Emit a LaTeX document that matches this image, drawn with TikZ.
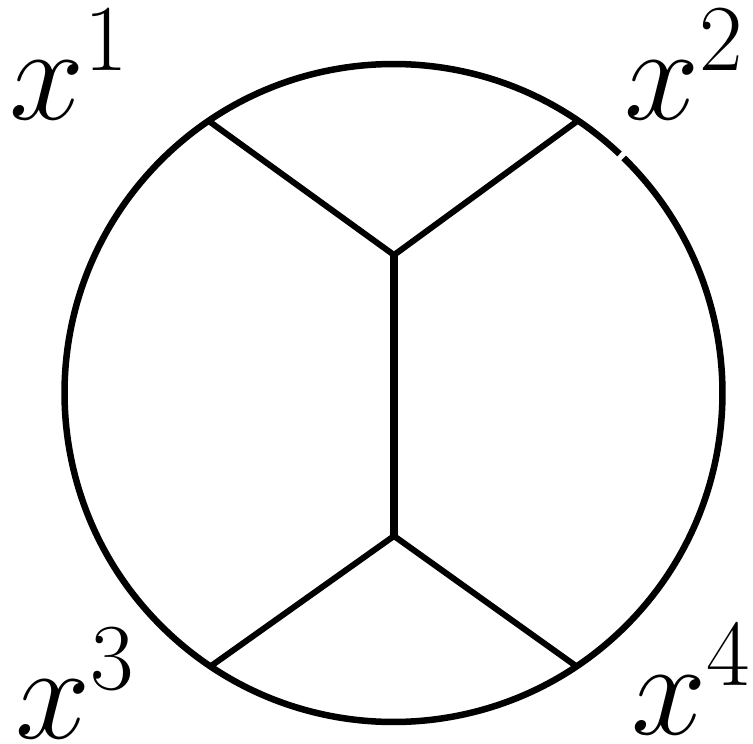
\RequirePackage{fix-cm}
\documentclass[tikz,border=0pt]{standalone}
\usetikzlibrary{calc}
\begin{document}
\begin{tikzpicture}[x=1pt,y=1pt,
  ring/.style={line width=6.5pt},
  leg/.style={line width=6pt, line join=round},
  prop/.style={line width=8.5pt},
  lab/.style={inner sep=0pt, anchor=base west, font=\fontsize{135}{140}\selectfont}]
\useasboundingbox (0,0) rectangle (753,-744);
\coordinate (c) at (393.5,-393);
\draw[ring] ($(c)+(46.6:329)$) arc[start angle=46.6, end angle=405.6, radius=329];
\coordinate (p1) at ($(c)+(124.2:329)$);
\coordinate (p2) at ($(c)+(55.9:329)$);
\coordinate (p3) at ($(c)+(-123.8:329)$);
\coordinate (p4) at ($(c)+(-56.2:329)$);
\coordinate (a) at (394,-255);
\coordinate (b) at (394,-536);
\draw[leg] (p1) -- (a) -- (p2);
\draw[leg] (p3) -- (b) -- (p4);
\draw[prop] (a) -- (b);
\node[lab] (l1) at (9,-119) {$x^1$};
\node[lab] (l2) at (624,-119) {$x^2$};
\node[lab] (l3) at (15,-738) {$x^3$};
\node[lab] (l4) at (631,-734) {$x^4$};
\end{tikzpicture}
\end{document}
